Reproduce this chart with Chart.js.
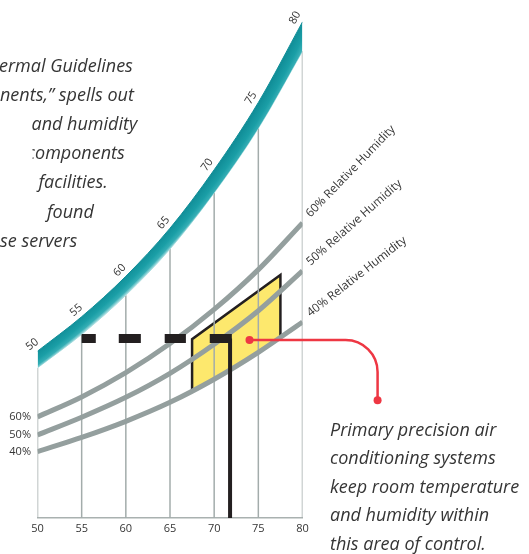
<!DOCTYPE html>
<html>
<head>
<meta charset="utf-8">
<script src="https://cdn.jsdelivr.net/npm/chart.js@4.4.1/dist/chart.umd.min.js"></script>
<style>
  html, body { margin: 0; padding: 0; background: #fff; }
  #wrap { width: 529px; height: 554px; overflow: hidden; }
  canvas { display: block; }
</style>
</head>
<body>
<div id="wrap"><canvas id="chart" width="529" height="554"></canvas></div>
<script>
  // dry bulb temperature (°F) along the bottom
  const temps = [50, 55, 60, 65, 70, 75, 80];
  const xTicks = [50, 55, 60, 65, 70, 75, 80];

  // moisture (grains per lb)
  const satTop    = [52.8, 63.7, 76.5, 91.7, 110.2, 131.5, 157.0];
  const satBottom = [47.5, 58.1, 70.5, 85.1, 102.9, 123.3, 147.7];
  const rh60 = [32.0, 38.3, 46.0, 55.2, 66.0, 78.6, 93.4];
  const rh50 = [26.3, 31.9, 38.2, 45.8, 55.0, 65.6, 78.2];
  const rh40 = [21.0, 25.5, 30.6, 36.6, 43.9, 52.4, 62.0];
  const rhNames = ["60%", "50%", "40%"];

  // area of control
  const zoneX = [67.5, 67.5, 77.5, 77.5];
  const zoneY = [40.3, 56.6, 76.9, 57.1];

  // dew point dashes + set point
  const dashFrom = [55.0, 59.2, 64.4, 69.5];
  const dashTo   = [56.6, 61.7, 66.8, 72.0];
  const dashLevel = 56.8;
  const setTemp = 71.8;

  const calloutFrom = [74.0, 56.3];
  const calloutTo   = [88.5, 37.3];

  const introLines = ["ermal Guidelines", "nents,\u201d spells out", "and humidity", "components", "facilities.", "found", "se servers"];
  const noteLines = ["Primary precision air", "conditioning systems", "keep room temperature", "and humidity within", "this area of control."];

  const pts = (xs, ys) => xs.map((x, i) => ({ x, y: ys[i] }));
  const TEXT = "#353535";

  function bandFill(c) {
    const ch = c.chart;
    if (!ch.chartArea) return "#19a0a8";
    const xs = ch.scales.x, ys = ch.scales.y;
    const P = [0, 3, 6].map(i => [xs.getPixelForValue(temps[i]), ys.getPixelForValue(satTop[i])]);
    const [A, B, C] = P;
    const d = 2 * (A[0] * (B[1] - C[1]) + B[0] * (C[1] - A[1]) + C[0] * (A[1] - B[1]));
    const a2 = A[0] * A[0] + A[1] * A[1], b2 = B[0] * B[0] + B[1] * B[1], c2 = C[0] * C[0] + C[1] * C[1];
    const cx = (a2 * (B[1] - C[1]) + b2 * (C[1] - A[1]) + c2 * (A[1] - B[1])) / d;
    const cy = (a2 * (C[0] - B[0]) + b2 * (A[0] - C[0]) + c2 * (B[0] - A[0])) / d;
    const r0 = Math.hypot(A[0] - cx, A[1] - cy);
    const lo = [xs.getPixelForValue(temps[3]), ys.getPixelForValue(satBottom[3])];
    const r1 = Math.hypot(lo[0] - cx, lo[1] - cy);
    const g = ch.ctx.createRadialGradient(cx, cy, r0 - 1, cx, cy, r1 + 0.5);
    g.addColorStop(0, "#118e98");
    g.addColorStop(0.5, "#1a9ea6");
    g.addColorStop(0.8, "#35aeb5");
    g.addColorStop(1, "#b0e0e2");
    return g;
  }

  const decor = {
    id: "decor",
    afterDatasetsDraw(ch) {
      const c = ch.ctx, xs = ch.scales.x, ys = ch.scales.y, area = ch.chartArea;
      c.save();

      // temperature labels riding on the saturation band
      c.fillStyle = TEXT;
      c.font = '11px "Open Sans"';
      c.textAlign = "center";
      c.textBaseline = "middle";
      temps.forEach((t, i) => {
        const px = xs.getPixelForValue(t), py = ys.getPixelForValue(satTop[i]);
        const a = Math.max(i - 1, 0), b = Math.min(i + 1, temps.length - 1);
        const dx = xs.getPixelForValue(temps[b]) - xs.getPixelForValue(temps[a]);
        const dy = ys.getPixelForValue(satTop[b]) - ys.getPixelForValue(satTop[a]);
        const ang = Math.atan2(dy, dx);
        c.save();
        c.translate(px + Math.sin(ang) * 8.5, py - Math.cos(ang) * 8.5);
        c.rotate(ang);
        c.fillText(String(t), 0, 0);
        c.restore();
      });

      // RH labels
      const rhSets = [rh60, rh50, rh40];
      const rhAngles = [46, 41.5, 38];
      c.textAlign = "right";
      rhSets.forEach((s, k) => {
        c.fillText(rhNames[k], area.left - 6.5, ys.getPixelForValue(s[0]));
      });
      c.textAlign = "left";
      c.textBaseline = "alphabetic";
      c.font = '11.8px "Open Sans"';
      rhSets.forEach((s, k) => {
        const n = s.length - 1;
        c.save();
        c.translate(xs.getPixelForValue(temps[n]) + 8, ys.getPixelForValue(s[n]) - 5);
        c.rotate(-rhAngles[k] * Math.PI / 180);
        c.fillText(rhNames[k] + " Relative Humidity", 0, 0);
        c.restore();
      });

      // red callout
      const x0 = xs.getPixelForValue(calloutFrom[0]), y0 = ys.getPixelForValue(calloutFrom[1]);
      const x1 = xs.getPixelForValue(calloutTo[0]), y1 = ys.getPixelForValue(calloutTo[1]);
      c.strokeStyle = "#ee3743";
      c.fillStyle = "#ee3743";
      c.lineWidth = 2.5;
      c.beginPath();
      c.moveTo(x0, y0);
      c.arcTo(x1, y0, x1, y1, 32);
      c.lineTo(x1, y1);
      c.stroke();
      [[x0, y0], [x1, y1]].forEach(([x, y]) => {
        c.beginPath();
        c.arc(x, y, 4, 0, Math.PI * 2);
        c.fill();
      });

      // text blocks
      c.fillStyle = TEXT;
      c.font = 'italic 18px "Open Sans"';
      c.textAlign = "left";
      const introX = [-1, 0, 31.5, null, 38.5, 47, 0];
      introLines.forEach((s, i) => {
        const y = 71.7 + i * 29.17;
        if (introX[i] === null) {
          c.save();
          c.beginPath();
          c.rect(32.5, y - 30, 200, 40);
          c.clip();
          c.fillText(s, 35 - c.measureText("c").width, y);
          c.restore();
        } else {
          c.fillText(s, introX[i], y);
        }
      });
      noteLines.forEach((s, i) => c.fillText(s, 330, 436 + i * 28.4));

      c.restore();
    }
  };

  const line = (data, extra) => Object.assign({
    data, pointRadius: 0, borderCapStyle: "butt", spanGaps: false, fill: false, tension: 0
  }, extra);

  new Chart(document.getElementById("chart"), {
    type: "line",
    data: {
      datasets: [
        line(dashFrom.flatMap((a, i) => [{ x: a, y: dashLevel }, { x: dashTo[i], y: dashLevel }, { x: dashTo[i], y: null }]),
          { borderColor: "#231f20", borderWidth: 9, order: 1 }),
        line([{ x: setTemp, y: dashLevel }, { x: setTemp, y: 0 }],
          { borderColor: "#231f20", borderWidth: 4, order: 1 }),
        line(pts(temps, satTop), { borderColor: "#118e98", borderWidth: 1, fill: "+1", backgroundColor: bandFill, cubicInterpolationMode: "monotone", order: 2 }),
        line(pts(temps, satBottom), { borderColor: "#b0e0e2", borderWidth: 1, cubicInterpolationMode: "monotone", order: 2 }),
        line(pts(temps, rh60), { borderColor: "#949f9e", borderWidth: 5, cubicInterpolationMode: "monotone", order: 3 }),
        line(pts(temps, rh50), { borderColor: "#949f9e", borderWidth: 5, cubicInterpolationMode: "monotone", order: 3 }),
        line(pts(temps, rh40), { borderColor: "#949f9e", borderWidth: 5, cubicInterpolationMode: "monotone", order: 3 }),
        line(temps.flatMap((t, i) => [{ x: t, y: 0 }, { x: t, y: satBottom[i] }, { x: t, y: null }]),
          { borderColor: "#a3acab", borderWidth: 1.5, order: 4 }),
        line(pts(zoneX, zoneY), { borderColor: "#231f20", borderWidth: 2.5, borderJoinStyle: "miter", fill: "shape", backgroundColor: "#fde86d", order: 5 })
      ]
    },
    options: {
      responsive: false,
      animation: false,
      events: [],
      layout: { padding: { left: 37.5, right: 226.5, top: 12.4, bottom: 0 } },
      plugins: { legend: { display: false }, tooltip: { enabled: false } },
      scales: {
        x: {
          type: "linear", min: 50, max: 80,
          afterBuildTicks: s => { s.ticks = xTicks.map(v => ({ value: v })); },
          afterFit: s => { s.height = 36; },
          grid: { display: false, drawTicks: false },
          border: { display: true, color: "#a9b1b0", width: 1.5 },
          ticks: { padding: 4, color: TEXT, font: { family: "Open Sans", size: 11 }, maxRotation: 0, autoSkip: false }
        },
        y: { display: false, min: 0, max: 160 }
      }
    },
    plugins: [decor]
  });
</script>
</body>
</html>
